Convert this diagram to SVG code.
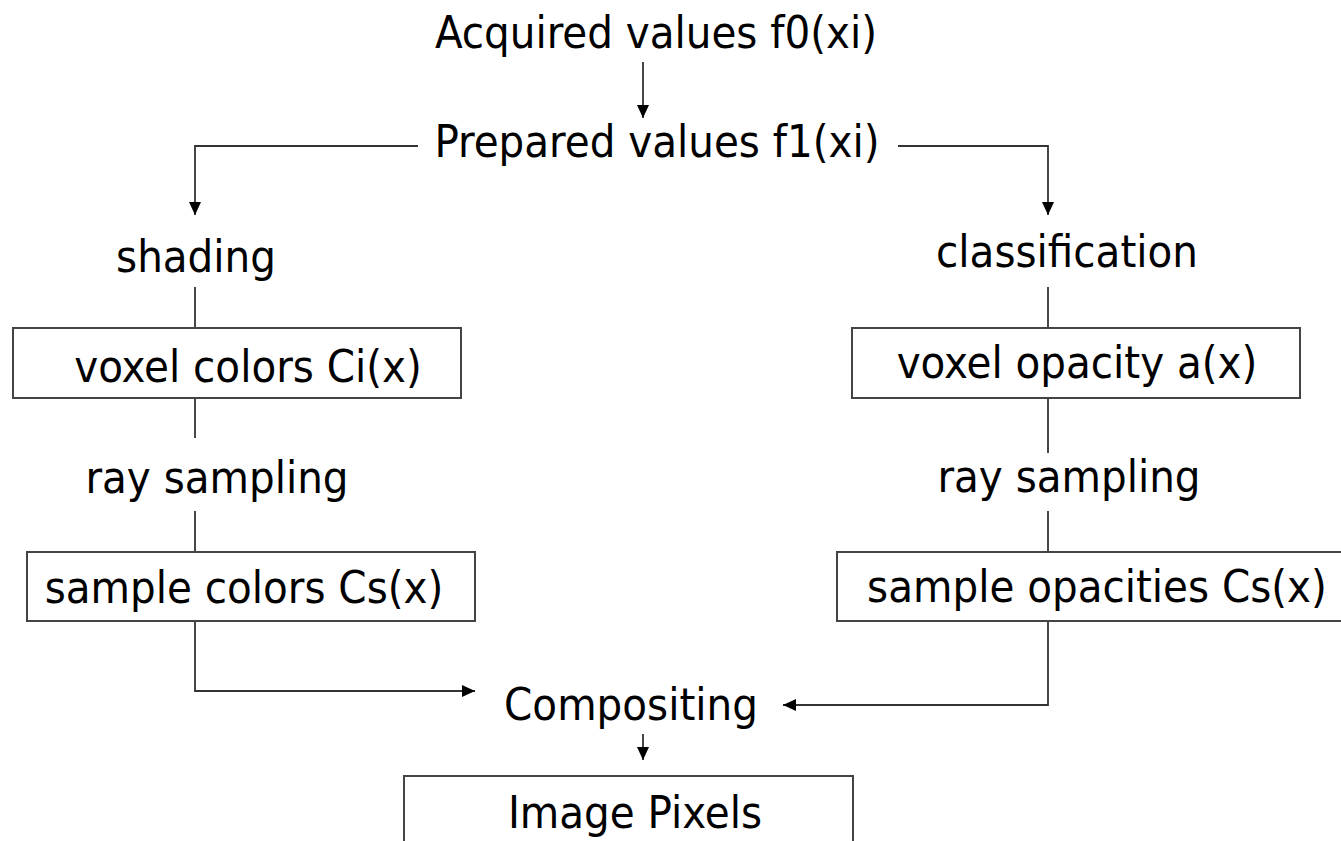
<svg xmlns="http://www.w3.org/2000/svg" width="1341" height="841" viewBox="0 0 1341 841">
<style>
text{font-family:"DejaVu Sans Condensed","DejaVu Sans",sans-serif;font-size:45px;fill:#000;text-anchor:middle}
.box{fill:#fff;stroke:#444;stroke-width:2}
.ln{fill:none;stroke:#333;stroke-width:1.8}
</style>
<defs>
<marker id="ah" viewBox="0 0 13 12" refX="13" refY="6" markerWidth="13" markerHeight="12" markerUnits="userSpaceOnUse" orient="auto">
<path d="M0,0 L13,6 L0,12 Z" fill="#000"/>
</marker>
</defs>
<rect width="1341" height="841" fill="#fff"/>
<g id="connectors">
<line class="ln" x1="643" y1="62" x2="643" y2="118" marker-end="url(#ah)"/>
<polyline class="ln" points="418,146 195,146 195,215" marker-end="url(#ah)"/>
<polyline class="ln" points="898,146 1048,146 1048,215" marker-end="url(#ah)"/>
<line class="ln" x1="195" y1="287" x2="195" y2="328"/>
<line class="ln" x1="1048" y1="287" x2="1048" y2="328"/>
<line class="ln" x1="195" y1="398" x2="195" y2="438"/>
<line class="ln" x1="1048" y1="398" x2="1048" y2="453"/>
<line class="ln" x1="195" y1="511" x2="195" y2="552"/>
<line class="ln" x1="1048" y1="511" x2="1048" y2="552"/>
<polyline class="ln" points="195,621 195,691 475,691" marker-end="url(#ah)"/>
<polyline class="ln" points="1048,621 1048,705 783,705" marker-end="url(#ah)"/>
<line class="ln" x1="643" y1="734" x2="643" y2="760" marker-end="url(#ah)"/>
</g>
<g id="acquired"><text x="656" y="48">Acquired values f0(xi)</text></g>
<g id="prepared"><text x="657" y="157">Prepared values f1(xi)</text></g>
<g id="shading"><text x="196" y="272">shading</text></g>
<g id="classification"><text x="1067" y="267">classification</text></g>
<g id="voxel-colors"><rect class="box" x="13" y="328" width="448" height="70"/><text x="248" y="382">voxel colors Ci(x)</text></g>
<g id="voxel-opacity"><rect class="box" x="852" y="328" width="448" height="70"/><text x="1077" y="378">voxel opacity a(x)</text></g>
<g id="ray-sampling-left"><text x="217" y="493">ray sampling</text></g>
<g id="ray-sampling-right"><text x="1069" y="492">ray sampling</text></g>
<g id="sample-colors"><rect class="box" x="27" y="552" width="448" height="69"/><text x="244" y="603">sample colors Cs(x)</text></g>
<g id="sample-opacities"><rect class="box" x="837" y="552" width="520" height="69"/><text x="1097" y="602">sample opacities Cs(x)</text></g>
<g id="compositing"><text x="631" y="720">Compositing</text></g>
<g id="image-pixels"><rect class="box" x="404" y="776" width="449" height="90"/><text x="635" y="828">Image Pixels</text></g>
</svg>
